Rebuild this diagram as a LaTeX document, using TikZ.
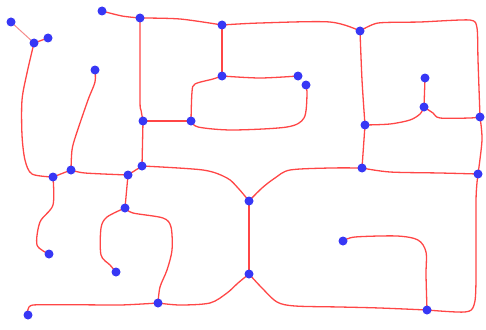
\documentclass[tikz,border=0pt]{standalone}
\usetikzlibrary{backgrounds}
\definecolor{linered}{RGB}{255,70,70}
\definecolor{lightred}{RGB}{245,140,140}
\definecolor{dotblue}{RGB}{55,55,245}
\tikzset{
  dot/.style={circle,fill=dotblue,draw=none,inner sep=0pt,minimum size=9pt},
  edge/.style={draw=linered,line width=1.3pt,line join=round,line cap=round},
  thinedge/.style={draw=lightred,line width=1pt}
}
\begin{document}
\begin{tikzpicture}[x=1pt,y=-1pt]
\useasboundingbox (0,0) rectangle (486,329);
% nodes
\node[dot] (A) at (11,22) {};
\node[dot] (B) at (34,43) {};
\node[dot] (C) at (48,38) {};
\node[dot] (D) at (102,11) {};
\node[dot] (E) at (140,18) {};
\node[dot] (F) at (95,70) {};
\node[dot] (G) at (143,121) {};
\node[dot] (H) at (142,166) {};
\node[dot] (I) at (71,170) {};
\node[dot] (J) at (222,25) {};
\node[dot] (K) at (222,76) {};
\node[dot] (L) at (298,76) {};
\node[dot] (M) at (306,85) {};
\node[dot] (N) at (191,121) {};
\node[dot] (O) at (360,31) {};
\node[dot] (P) at (425,78) {};
\node[dot] (Q) at (424,107) {};
\node[dot] (R) at (480,117) {};
\node[dot] (S) at (365,125) {};
\node[dot] (T) at (362,168) {};
\node[dot] (U) at (53,177) {};
\node[dot] (V) at (128,175) {};
\node[dot] (W) at (125,208) {};
\node[dot] (X) at (49,254) {};
\node[dot] (Y) at (116,272) {};
\node[dot] (Z) at (158,303) {};
\node[dot] (AA) at (28,315) {};
\node[dot] (BB) at (249,201) {};
\node[dot] (CC) at (249,274) {};
\node[dot] (DD) at (478,174) {};
\node[dot] (EE) at (343,241) {};
\node[dot] (FF) at (427,310) {};
% connectors
\begin{scope}[on background layer]
\draw[thinedge] (A.center) -- (B.center);
\draw[edge] (B.center) -- (C.center);
\draw[edge] plot[smooth,tension=0.5] coordinates {(B.center) (27,73) (22,100) (22,135) (25,160) (32,174) (U.center)};
\draw[edge] (U.center) -- (I.center);
\draw[edge] plot[smooth,tension=0.5] coordinates {(F.center) (95,82) (88,100) (76,135) (72,150) (I.center)};
\draw[edge] plot[smooth,tension=0.5] coordinates {(I.center) (85,173) (V.center)};
\draw[edge] (V.center) -- (H.center);
\draw[edge] plot[smooth,tension=0.5] coordinates {(H.center) (203,170) (227,178) (238,188) (BB.center)};
\draw[edge] plot[smooth,tension=0.5] coordinates {(BB.center) (262,188) (275,178) (290,170) (330,168) (T.center)};
\draw[edge] plot[smooth,tension=0.5] coordinates {(T.center) (390,172) (440,173) (DD.center)};
\draw[edge] (BB.center) -- (CC.center);
\draw[edge] plot[smooth,tension=0.5] coordinates {(CC.center) (238,283) (227,293) (210,303) (180,305) (Z.center)};
\draw[edge] plot[smooth,tension=0.5] coordinates {(CC.center) (262,288) (277,302) (295,306) (340,307) (380,308) (FF.center)};
\draw[edge] plot[smooth,tension=0.5] coordinates {(FF.center) (465,312) (474,305) (476,280) (476,200) (DD.center)};
\draw[edge] plot[smooth,tension=0.5] coordinates {(R.center) (482,140) (DD.center)};
\draw[edge] plot[smooth,tension=0.4] coordinates {(R.center) (478,60) (477,28) (470,20) (420,22) (378,23) (O.center)};
\draw[edge] plot[smooth,tension=0.5] coordinates {(J.center) (260,23) (330,22) (O.center)};
\draw[edge] plot[smooth,tension=0.5] coordinates {(E.center) (180,19) (J.center)};
\draw[edge] plot[smooth,tension=0.5] coordinates {(D.center) (122,16) (E.center)};
\draw[edge] plot[smooth,tension=0.5] coordinates {(E.center) (140,100) (141,110) (G.center)};
\draw[edge] (G.center) -- (H.center);
\draw[edge] (G.center) -- (N.center);
\draw[edge] (J.center) -- (K.center);
\draw[edge] plot[smooth,tension=0.5] coordinates {(K.center) (260,78) (L.center)};
\draw[edge] plot[smooth,tension=0.5] coordinates {(K.center) (213,79) (195,84) (192,92) (N.center)};
\draw[edge] plot[smooth,tension=0.5] coordinates {(N.center) (198,127) (232,130) (287,127) (304,118) (307,95) (M.center)};
\draw[edge] plot[smooth,tension=0.5] coordinates {(O.center) (362,80) (S.center)};
\draw[edge] (S.center) -- (T.center);
\draw[edge] plot[smooth,tension=0.5] coordinates {(S.center) (390,124) (410,120) (420,114) (Q.center)};
\draw[edge] (P.center) -- (Q.center);
\draw[edge] plot[smooth,tension=0.5] coordinates {(Q.center) (433,113) (440,118) (470,118) (R.center)};
\draw[edge] (V.center) -- (W.center);
\draw[edge] plot[smooth,tension=0.5] coordinates {(W.center) (133,213) (163,218) (171,227) (172,250) (167,270) (160,287) (Z.center)};
\draw[edge] plot[smooth,tension=0.5] coordinates {(W.center) (107,217) (101,228) (101,255) (110,265) (Y.center)};
\draw[edge] plot[smooth,tension=0.5] coordinates {(U.center) (53,205) (40,222) (37,245) (X.center)};
\draw[edge] plot[smooth,tension=0.3] coordinates {(Z.center) (120,305) (33,305) (AA.center)};
\draw[edge] plot[smooth,tension=0.5] coordinates {(EE.center) (355,237) (397,236) (418,240) (426,252) (426,275) (FF.center)};
\end{scope}
\end{tikzpicture}
\end{document}
